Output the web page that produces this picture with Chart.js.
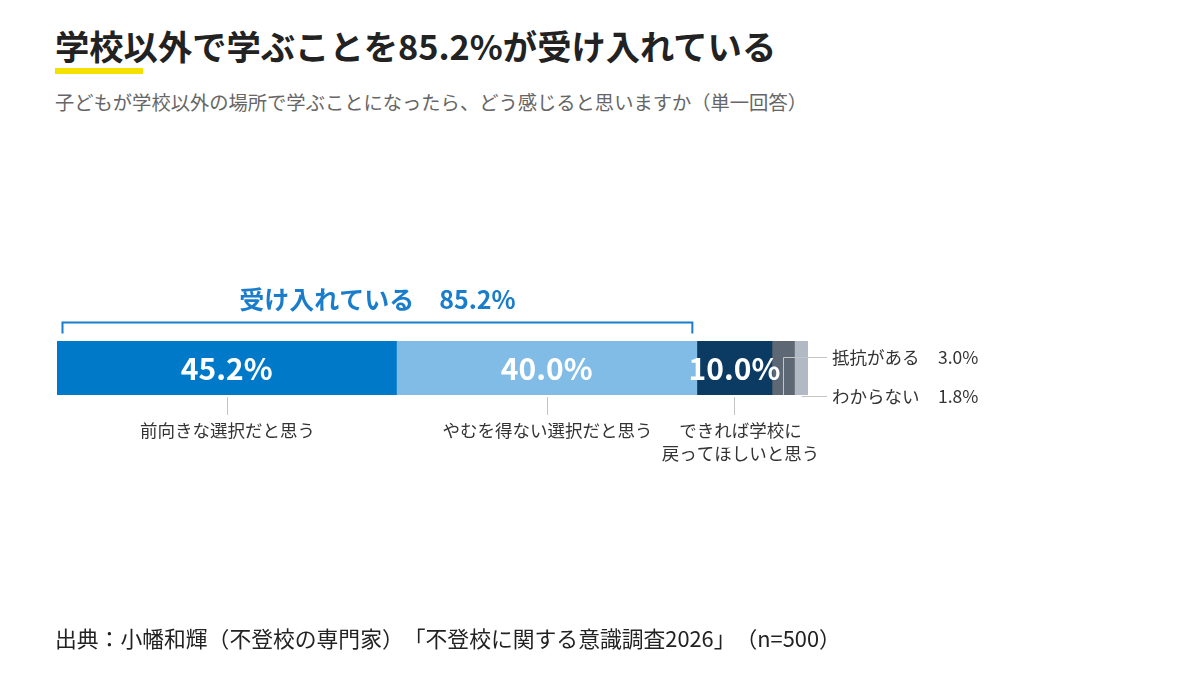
<!DOCTYPE html>
<html lang="ja">
<head>
<meta charset="utf-8">
<title>学校以外で学ぶことを85.2%が受け入れている</title>
<script src="https://cdn.jsdelivr.net/npm/chart.js@4.4.1/dist/chart.umd.min.js"></script>
<style>
html, body { margin: 0; padding: 0; background: #fff; }
body {
    width: 1200px; height: 674px; position: relative; overflow: hidden;
    font-family: "Noto Sans CJK JP", "Noto Sans", sans-serif;
    text-spacing-trim: space-all;
}
#title { position: absolute; left: 55px; top: 22px; margin: 0; font-size: 34.3px; font-weight: 700; color: #222; line-height: 46px; white-space: nowrap; }
#mark { position: absolute; left: 55px; top: 68px; width: 88px; height: 6px; background: #f5e100; }
#subtitle { position: absolute; left: 55px; top: 89px; font-size: 19.3px; color: #666; line-height: 26px; white-space: nowrap; }
#source { position: absolute; left: 55px; top: 623px; font-size: 21.8px; color: #222; line-height: 30px; white-space: nowrap; }
#wrap { position: absolute; left: 0; top: 0; width: 1200px; height: 674px; }
</style>
</head>
<body>
<h1 id="title">学校以外で学ぶことを85.2%が受け入れている</h1>
<div id="mark"></div>
<div id="subtitle">子どもが学校以外の場所で学ぶことになったら、どう感じると思いますか（単一回答）</div>
<div id="wrap"><canvas id="chart" width="1200" height="674"></canvas></div>
<div id="source">出典：小幡和輝（不登校の専門家）「不登校に関する意識調査2026」（n=500）</div>

<script>
// Data
const categories = ['全体'];
const answerLabels = ['前向きな選択だと思う', 'やむを得ない選択だと思う', 'できれば学校に\n戻ってほしいと思う', '抵抗がある', 'わからない'];
const answerValues = [45.2, 40.0, 10.0, 3.0, 1.8];
const acceptedLabel = '受け入れている';
const acceptedShare = 85.2;

// Colors
const barColors = ['#0079c9', '#80bce6', '#0b3a63', '#5e6874', '#b1b9c5'];
const blue = '#1a7dcc';
const leaderColor = '#c4c4c4';
const FONT = '"Noto Sans CJK JP", "Noto Sans", sans-serif';

const fmt = v => v.toFixed(1) + '%';

// Annotations drawn over the bar
const labelPlugin = {
    id: 'labels',
    afterDatasetsDraw(chart) {
        const ctx = chart.ctx;
        const xs = chart.scales.x;
        const segs = chart.data.datasets.map((ds, i) => {
            const el = chart.getDatasetMeta(i).data[0];
            const p = el.getProps(['x', 'y', 'base', 'height'], true);
            return { left: Math.min(p.x, p.base), right: Math.max(p.x, p.base), y: p.y, h: p.height };
        });
        const top = segs[0].y - segs[0].h / 2;
        const bottom = segs[0].y + segs[0].h / 2;

        ctx.save();

        // value inside the three big segments
        ctx.fillStyle = '#fff';
        ctx.font = 'bold 30px ' + FONT;
        ctx.textAlign = 'center';
        ctx.textBaseline = 'middle';
        for (let i = 0; i < 3; i++) {
            const s = segs[i];
            ctx.fillText(fmt(answerValues[i]), (s.left + s.right) / 2, s.y + 1);
        }

        // leader lines + labels below
        ctx.strokeStyle = leaderColor;
        ctx.lineWidth = 1;
        ctx.fillStyle = '#333';
        ctx.font = '17.5px ' + FONT;
        for (let i = 0; i < 3; i++) {
            const s = segs[i];
            const cx = Math.round((s.left + s.right) / 2) + 0.5;
            ctx.beginPath();
            ctx.moveTo(cx, bottom + 2);
            ctx.lineTo(cx, bottom + 20);
            ctx.stroke();
            const lines = answerLabels[i].split('\n');
            const tx = lines.length > 1 ? cx + 6 : cx;
            lines.forEach((ln, k) => ctx.fillText(ln, tx, 430 + k * 23));
        }

        // small segments: labels on the right
        const rightX = 832;
        const valueX = 938;
        const rowY = [357, 396];
        ctx.textAlign = 'left';
        for (let i = 3; i < 5; i++) {
            const s = segs[i];
            const cx = Math.round((s.left + s.right) / 2) + 0.5;
            const ry = rowY[i - 3] + 0.5;
            ctx.beginPath();
            if (i === 3) {
                ctx.moveTo(cx, bottom);
                ctx.lineTo(cx, ry);
            } else {
                ctx.moveTo(cx, ry);
            }
            ctx.lineTo(rightX - 5, ry);
            ctx.stroke();
            ctx.fillText(answerLabels[i], rightX, rowY[i - 3]);
            ctx.fillText(fmt(answerValues[i]), valueX, rowY[i - 3]);
        }

        // bracket for "accepted"
        const bx0 = xs.getPixelForValue(0) + 5.5;
        const bx1 = xs.getPixelForValue(acceptedShare) - 4.5;
        const by = top - 18.5;
        ctx.strokeStyle = blue;
        ctx.lineWidth = 2;
        ctx.beginPath();
        ctx.moveTo(bx0, by + 11);
        ctx.lineTo(bx0, by);
        ctx.lineTo(bx1, by);
        ctx.lineTo(bx1, by + 11);
        ctx.stroke();
        ctx.fillStyle = blue;
        ctx.font = 'bold 25px ' + FONT;
        ctx.textAlign = 'center';
        ctx.fillText(acceptedLabel + '\u3000' + fmt(acceptedShare), (bx0 + bx1) / 2, top - 42);

        ctx.restore();
    }
};

new Chart(document.getElementById('chart'), {
    type: 'bar',
    data: {
        labels: categories,
        datasets: answerLabels.map((name, i) => ({
            label: name.replace('\n', ''),
            data: [answerValues[i]],
            backgroundColor: barColors[i],
            borderWidth: 0,
            barPercentage: 1,
            categoryPercentage: 1
        }))
    },
    options: {
        indexAxis: 'y',
        responsive: false,
        animation: false,
        devicePixelRatio: 1,
        layout: { padding: { left: 57, right: 392, top: 341, bottom: 279 } },
        scales: {
            x: { stacked: true, min: 0, max: 100, display: false },
            y: { stacked: true, display: false }
        },
        plugins: {
            legend: { display: false },
            tooltip: { enabled: false }
        }
    },
    plugins: [labelPlugin]
});
</script>
</body>
</html>
